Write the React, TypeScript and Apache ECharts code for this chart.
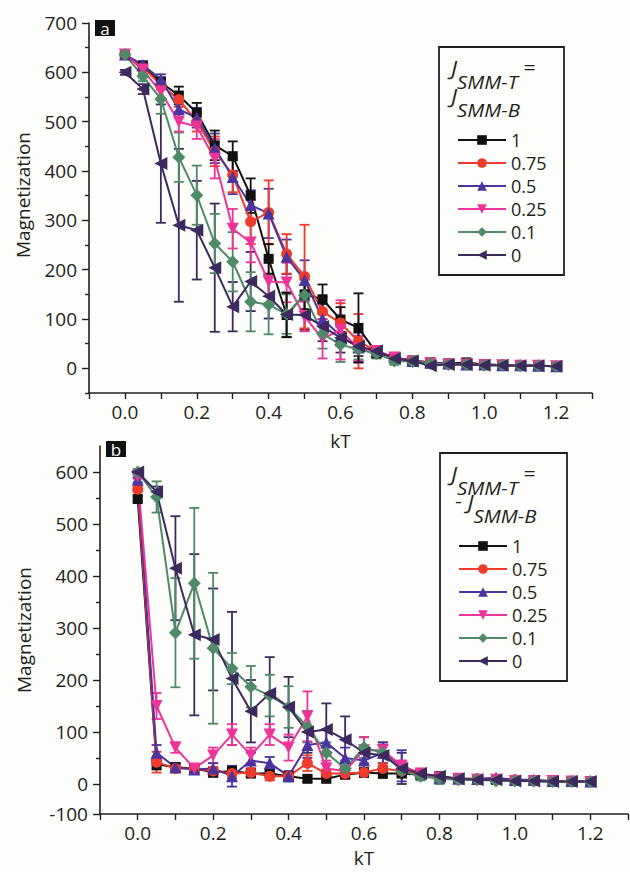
import React, { useEffect, useRef } from 'react';
import * as echarts from 'echarts';

const KT = [0, 0.05, 0.1, 0.15, 0.2, 0.25, 0.3, 0.35, 0.4, 0.45, 0.5, 0.55, 0.6, 0.65, 0.7, 0.75, 0.8, 0.85, 0.9, 0.95, 1.0, 1.05, 1.1, 1.15, 1.2];

const NAMES = ['1', '0.75', '0.5', '0.25', '0.1', '0'];

// Panel a: J_SMM-T = J_SMM-B
const A_1 = [636, 612, 580, 553, 518, 452, 430, 350, 222, 108, 150, 140, 99, 82, 32, 22, 16, 12, 10, 12, 8, 7, 6, 5, 4];
const A_075 = [636, 610, 575, 545, 500, 440, 392, 297, 316, 232, 186, 115, 92, 55, 35, 22, 15, 12, 10, 8, 8, 6, 6, 5, 4];
const A_05 = [636, 615, 586, 525, 508, 446, 388, 331, 314, 226, 179, 100, 66, 42, 35, 22, 15, 12, 10, 8, 8, 6, 6, 5, 4];
const A_025 = [636, 605, 560, 500, 490, 425, 283, 255, 176, 174, 105, 60, 78, 40, 35, 22, 14, 10, 8, 8, 6, 6, 5, 5, 4];
const A_01 = [636, 592, 546, 428, 351, 253, 216, 135, 129, 110, 148, 70, 48, 38, 30, 15, 14, 10, 8, 8, 6, 6, 5, 5, 4];
const A_0 = [600, 566, 415, 290, 280, 204, 125, 176, 146, 109, 108, 85, 62, 45, 35, 20, 15, 5, 8, 8, 6, 6, 5, 5, 4];

const EA_1 = [5, 8, 10, 18, 20, 30, 30, 35, 30, 45, 30, 30, 25, 70, 10, 8, 5, 4, 3, 3, 3, 3, 2, 2, 2];
const EA_075 = [5, 8, 10, 15, 20, 30, 35, 45, 65, 40, 105, 30, 40, 55, 10, 8, 5, 4, 3, 3, 3, 3, 2, 2, 2];
const EA_05 = [5, 8, 10, 15, 20, 30, 35, 30, 50, 35, 40, 30, 20, 30, 10, 8, 5, 4, 3, 3, 3, 3, 2, 2, 2];
const EA_025 = [5, 8, 15, 20, 25, 40, 40, 40, 45, 40, 30, 40, 60, 25, 10, 8, 5, 4, 3, 3, 3, 3, 2, 2, 2];
const EA_01 = [5, 10, 30, 50, 60, 60, 60, 60, 60, 40, 40, 30, 35, 20, 10, 8, 5, 4, 3, 3, 3, 3, 2, 2, 2];
const EA_0 = [5, 10, 120, 155, 100, 130, 50, 60, 45, 45, 30, 30, 30, 20, 10, 8, 5, 4, 3, 3, 3, 3, 2, 2, 2];

// Panel b: J_SMM-T = -J_SMM-B
const B_1 = [548, 38, 32, 30, 22, 25, 20, 20, 15, 10, 10, 18, 22, 20, 20, 18, 15, 10, 8, 8, 6, 6, 5, 5, 5];
const B_075 = [567, 42, 30, 30, 25, 20, 22, 15, 15, 40, 20, 20, 22, 30, 25, 20, 12, 10, 10, 8, 8, 6, 6, 5, 4];
const B_05 = [585, 60, 32, 28, 30, 15, 45, 40, 15, 75, 80, 50, 45, 60, 35, 20, 12, 10, 10, 12, 8, 8, 6, 6, 5];
const B_025 = [592, 150, 70, 30, 55, 95, 55, 95, 70, 130, 30, 25, 65, 65, 35, 20, 12, 10, 8, 8, 6, 6, 6, 5, 4];
const B_01 = [600, 552, 291, 386, 261, 222, 187, 170, 148, 110, 60, 30, 70, 60, 25, 15, 10, 8, 8, 6, 6, 6, 5, 5, 5];
const B_0 = [600, 562, 415, 287, 278, 203, 140, 174, 148, 100, 105, 85, 60, 55, 30, 20, 15, 10, 8, 8, 6, 6, 5, 5, 5];

const EB_1 = [5, 10, 8, 6, 8, 8, 6, 6, 6, 6, 6, 6, 8, 8, 6, 5, 4, 3, 3, 3, 3, 3, 2, 2, 2];
const EB_075 = [5, 20, 8, 8, 8, 8, 8, 8, 8, 15, 8, 8, 8, 10, 8, 5, 4, 3, 3, 3, 3, 3, 2, 2, 2];
const EB_05 = [5, 15, 8, 8, 10, 20, 15, 12, 10, 25, 25, 20, 20, 20, 30, 5, 4, 3, 3, 3, 3, 3, 2, 2, 2];
const EB_025 = [5, 25, 10, 8, 15, 20, 15, 20, 25, 48, 15, 15, 25, 15, 10, 5, 4, 3, 3, 3, 3, 3, 2, 2, 2];
const EB_01 = [5, 30, 105, 145, 145, 30, 40, 40, 40, 30, 20, 15, 20, 20, 10, 8, 10, 4, 3, 3, 3, 3, 2, 2, 2];
const EB_0 = [5, 10, 100, 155, 98, 128, 60, 70, 58, 40, 50, 45, 30, 20, 30, 8, 5, 4, 3, 3, 3, 3, 2, 2, 2];

const X_TICKS = [-0.1, 0, 0.1, 0.2, 0.3, 0.4, 0.5, 0.6, 0.7, 0.8, 0.9, 1.0, 1.1, 1.2, 1.3];
const X_LABELS = [0, 0.2, 0.4, 0.6, 0.8, 1.0, 1.2];
const YA_MAJOR = [0, 100, 200, 300, 400, 500, 600, 700];
const YA_MINOR = [-50, 50, 150, 250, 350, 450, 550, 650];
const YB_MIN = -57.7;
const YB_MAJOR = [YB_MIN, 0, 100, 200, 300, 400, 500, 600];
const YB_MINOR = [50, 150, 250, 350, 450, 550];

const COLORS = ['#111111', '#EE3B2B', '#4B34A0', '#EE3399', '#4E8A68', '#3C2A5E'];
const SYMBOLS = ['rect', 'circle', 'triangle', 'triangle', 'diamond', 'triangle'];
const SYM_ROT = [0, 0, 0, 180, 0, 90];
const SYM_SIZE = [10, 11, 12, 12, 13, 13];

const FONT = 'Open Sans';
const TXT = '#231f20';

function xAxisCfg(gi: number, gap: number) {
  return {
    type: 'value', gridIndex: gi, min: -0.1, max: 1.3,
    name: 'kT', nameLocation: 'middle', nameGap: gap,
    nameTextStyle: { fontFamily: FONT, fontSize: 19, color: TXT },
    axisLine: { show: true, onZero: false, lineStyle: { color: TXT, width: 1.6 } },
    axisTick: { show: true, customValues: X_TICKS, length: 6, lineStyle: { color: TXT, width: 1.4 } },
    axisLabel: { customValues: X_LABELS, formatter: (v: number) => v.toFixed(1), fontFamily: FONT, fontSize: 19, color: TXT, margin: 9 },
    splitLine: { show: false },
  };
}

function yAxisMain(gi: number, min: number, max: number, major: number[], gap: number, shift: number) {
  return {
    type: 'value', gridIndex: gi, min, max, position: 'left',
    name: 'Magnetization', nameLocation: 'middle', nameGap: gap,
    nameTextStyle: { fontFamily: FONT, fontSize: 19, color: TXT, padding: [0, 0, 0, shift] },
    axisLine: { show: true, onZero: false, lineStyle: { color: TXT, width: 1.6 } },
    axisTick: { show: true, customValues: major, length: 7, lineStyle: { color: TXT, width: 1.4 } },
    axisLabel: {
      customValues: major,
      formatter: (v: number) => (v < -10 ? '-100' : String(Math.round(v))),
      fontFamily: FONT, fontSize: 19, color: TXT, margin: 12,
    },
    splitLine: { show: false },
  };
}

function yAxisMinor(gi: number, min: number, max: number, minor: number[]) {
  return {
    type: 'value', gridIndex: gi, min, max, position: 'left',
    axisLine: { show: false, onZero: false },
    axisTick: { show: true, customValues: minor, length: 4, lineStyle: { color: TXT, width: 1.4 } },
    axisLabel: { show: false },
    splitLine: { show: false },
  };
}

function lineSeries(idx: number, xi: number, yi: number, vals: number[]) {
  return {
    type: 'line', name: NAMES[idx], xAxisIndex: xi, yAxisIndex: yi,
    data: KT.map((k, i) => [k, vals[i]]),
    symbol: SYMBOLS[idx], symbolSize: SYM_SIZE[idx], symbolRotate: SYM_ROT[idx],
    lineStyle: { color: COLORS[idx], width: 2 },
    itemStyle: { color: COLORS[idx] },
    z: 3, silent: true,
  };
}

function errSeries(idx: number, xi: number, yi: number, vals: number[], errs: number[]) {
  const color = COLORS[idx];
  return {
    type: 'custom', name: NAMES[idx] + ' err', xAxisIndex: xi, yAxisIndex: yi,
    data: KT.map((k, i) => [k, vals[i], errs[i]]),
    encode: { x: 0, y: 1 },
    z: 2, silent: true,
    renderItem: (_p: any, api: any) => {
      const x = api.value(0), y = api.value(1), e = api.value(2);
      const t = api.coord([x, y + e]);
      const b = api.coord([x, y - e]);
      const hw = 5;
      const st = { stroke: color, lineWidth: 1.8 };
      return {
        type: 'group',
        children: [
          { type: 'line', shape: { x1: t[0], y1: t[1], x2: b[0], y2: b[1] }, style: st },
          { type: 'line', shape: { x1: t[0] - hw, y1: t[1], x2: t[0] + hw, y2: t[1] }, style: st },
          { type: 'line', shape: { x1: b[0] - hw, y1: b[1], x2: b[0] + hw, y2: b[1] }, style: st },
        ],
      };
    },
  };
}

function legendCfg(top: number, left: number) {
  return {
    data: NAMES, orient: 'vertical', left, top, padding: 0,
    itemWidth: 48, itemHeight: 12, itemGap: 5, selectedMode: false,
    textStyle: { fontFamily: FONT, fontSize: 18, color: TXT, lineHeight: 18 },
  };
}

const RICH = {
  j: { fontFamily: FONT, fontSize: 20, fontStyle: 'italic', fill: TXT, color: TXT, lineHeight: 20, verticalAlign: 'top' },
  s: { fontFamily: FONT, fontSize: 18, fontStyle: 'italic', fill: TXT, color: TXT, lineHeight: 34, verticalAlign: 'bottom' },
  e: { fontFamily: FONT, fontSize: 19, fill: TXT, color: TXT, lineHeight: 24, verticalAlign: 'top' },
};

function title(x: number, y: number, text: string) {
  return {
    type: 'text', x, y, scaleX: 1.13,
    style: { text, rich: RICH, fontFamily: FONT, fontSize: 19, fill: TXT, verticalAlign: 'middle', align: 'left' },
  };
}

function panelTag(x: number, y: number, t: string) {
  return [
    { type: 'rect', shape: { x, y, width: 20, height: 16 }, style: { fill: '#111' } },
    { type: 'text', x: x + 10, y: y + 8, style: { text: t, fontFamily: FONT, fontSize: 17, fill: '#fff', align: 'center', verticalAlign: 'middle' } },
  ];
}

export default function App() {
  const ref = useRef<HTMLDivElement>(null);
  useEffect(() => {
    document.body.style.margin = '0';
    const chart = echarts.init(ref.current!, null, { renderer: 'svg' });
    const aVals = [A_1, A_075, A_05, A_025, A_01, A_0];
    const aErr = [EA_1, EA_075, EA_05, EA_025, EA_01, EA_0];
    const bVals = [B_1, B_075, B_05, B_025, B_01, B_0];
    const bErr = [EB_1, EB_075, EB_05, EB_025, EB_01, EB_0];
    const series: any[] = [];
    for (let i = 0; i < 6; i++) series.push(lineSeries(i, 0, 0, aVals[i]));
    for (let i = 0; i < 6; i++) series.push(lineSeries(i, 1, 2, bVals[i]));
    for (let i = 5; i >= 0; i--) series.push(errSeries(i, 0, 0, aVals[i], aErr[i]));
    for (let i = 5; i >= 0; i--) series.push(errSeries(i, 1, 2, bVals[i], bErr[i]));

    const option: any = {
      animation: false,
      backgroundColor: '#fdfdfb',
      grid: [
        { left: 89, right: 38, top: 23, height: 370, containLabel: false },
        { left: 100, right: 2, top: 446, height: 368, containLabel: false },
      ],
      xAxis: [xAxisCfg(0, 38), xAxisCfg(1, 34)],
      yAxis: [
        yAxisMain(0, -50, 700, YA_MAJOR, 57, 26),
        yAxisMinor(0, -50, 700, YA_MINOR),
        yAxisMain(1, YB_MIN, 650, YB_MAJOR, 67, 0),
        yAxisMinor(1, YB_MIN, 650, YB_MINOR),
      ],
      legend: [legendCfg(131, 457), legendCfg(537, 458)],
      series,
      graphic: [
        { type: 'rect', shape: { x: 439, y: 47, width: 125, height: 228 }, style: { fill: 'none', stroke: TXT, lineWidth: 1.8 } },
        { type: 'rect', shape: { x: 440, y: 453, width: 127, height: 228 }, style: { fill: 'none', stroke: TXT, lineWidth: 1.8 } },
        title(451, 74, '{j|J}{s|SMM-T}{e| =}'),
        title(451, 102, '{j|J}{s|SMM-B}'),
        title(451, 480, '{j|J}{s|SMM-T}{e| =}'),
        title(455, 508, '{e|- }{j|J}{s|SMM-B}'),
        ...panelTag(95, 20, 'a'),
        ...panelTag(106, 441, 'b'),
      ],
    };
    chart.setOption(option);
    return () => chart.dispose();
  }, []);
  return <div ref={ref} style={{ width: 630, height: 872 }} />;
}
